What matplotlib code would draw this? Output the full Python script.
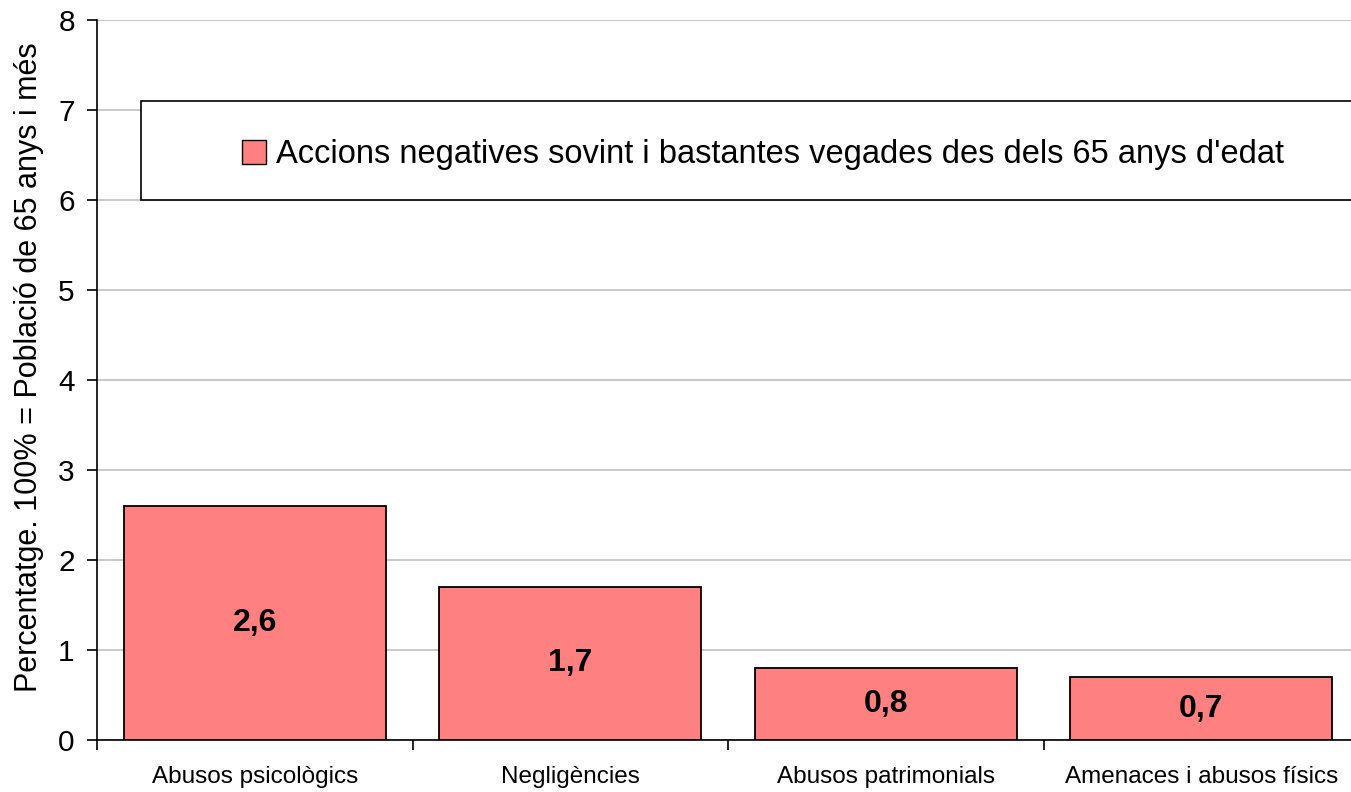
import numpy as np
import matplotlib.pyplot as plt
from matplotlib.patches import Rectangle, Patch

plt.rcParams['font.family'] = ['Liberation Sans', 'DejaVu Sans']

# Data
categories = ["Abusos psicològics", "Negligències", "Abusos patrimonials",
              "Amenaces i abusos físics"]
values = [2.6, 1.7, 0.8, 0.7]
value_labels = ["2,6", "1,7", "0,8", "0,7"]
series_name = "Accions negatives sovint i bastantes vegades des dels 65 anys d'edat"
ylabel = "Percentatge. 100% = Població de 65 anys i més"

bar_color = "#FF8080"

fig = plt.figure(figsize=(13.51, 7.92), dpi=100)
# axes runs a little past the right edge of the figure, as in the original
ax = fig.add_axes([97 / 1351, 52 / 792, 1262 / 1351, 720 / 792])

x = np.arange(len(categories))
bars = ax.bar(x, values, width=0.83, color=bar_color, edgecolor="black",
              linewidth=1.3, zorder=3)

for xi, v, lab in zip(x, values, value_labels):
    ax.text(xi, v / 2, lab, ha="center", va="center", fontsize=23,
            fontweight="bold", zorder=4)

ax.set_xlim(-0.5, len(categories) - 0.5)
ax.set_ylim(0, 8)
ax.set_yticks(range(0, 9))
ax.tick_params(axis="y", labelsize=21.5, length=7, width=1.2,
               direction="out", pad=9)
ax.yaxis.grid(True, color="#c0c0c0", linewidth=1.2, zorder=0)
ax.set_axisbelow(True)

ax.set_xticks(x)
ax.set_xticklabels(categories, fontsize=17.5)
ax.tick_params(axis="x", length=0, pad=19)
ax.set_xticks(np.arange(-0.5, len(categories)), minor=True)
ax.tick_params(axis="x", which="minor", length=7, width=1.2, direction="out")

ax.set_ylabel(ylabel, fontsize=22)
ax.yaxis.set_label_coords(-0.042, 0.518)

for s in ["top", "right"]:
    ax.spines[s].set_visible(False)
ax.spines["left"].set_linewidth(1.2)
ax.spines["bottom"].set_linewidth(1.2)

# legend box
ax.add_patch(Rectangle((-0.36, 6.0), 3.9, 1.1, facecolor="white",
                       edgecolor="black", linewidth=1.2, zorder=5,
                       clip_on=False))
handle = Patch(facecolor=bar_color, edgecolor="black", linewidth=1.0)
leg = ax.legend([handle], [series_name], loc="center",
                bbox_to_anchor=(1.61, 6.5), bbox_transform=ax.transData,
                frameon=False, fontsize=23.5, handlelength=0.75,
                handleheight=0.75, handletextpad=0.3)
leg.set_zorder(6)

fig.savefig("out.png", dpi=100)
